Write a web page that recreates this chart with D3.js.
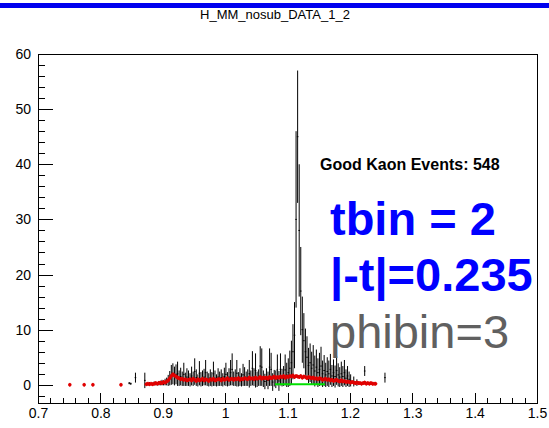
<!DOCTYPE html>
<html>
<head>
  <meta charset="UTF-8">
  <title>H_MM_nosub_DATA_1_2</title>
  <script src="https://d3js.org/d3.v7.min.js"></script>
  <style>
    body { margin: 0; background: #fff; font-family: "Liberation Sans", Arial, sans-serif; }
    .axis path, .axis line { stroke: #000; shape-rendering: crispEdges; }
    .axis text { font-family: "Liberation Sans", Arial, sans-serif; font-size: 14px; fill: #000; }
  </style>
</head>
<body>
  <div id="chart"></div>

  <script>
    // histogram binning (missing-mass axis)
    const binStart = 0.84, binWidth = 0.0025;

    // data histogram: bin content and error (null = empty bin)
    const blackVal = [
      null, null, 0.3, 0.2, null, null, 1.3, null, null, null,
      null, null, 0.8, null, 0.1, 0.2, null, 0.1, 0.3, 0.2,
      0.1, 0.3, 0.2, 0.4, 0.3, 0.5, 0.6, 0.8, 1.2, 1.8,
      2.0, 1.6, 1.9, 2.0, 1.2, 1.5, 1.1, 1.9, 1.0, 1.4,
      1.2, 0.9, 1.6, 1.1, 2.4, 1.3, 0.8, 2.1, 1.0, 1.2,
      1.4, 2.2, 1.1, 0.9, 1.3, 1.0, 2.0, 1.2, 0.8, 1.4,
      1.1, 1.3, 0.9, 1.5, 1.9, 1.0, 1.4, 2.2, 2.8, 1.1,
      1.3, 2.1, 1.0, 1.4, 0.9, 1.8, 1.5, 1.1, 1.3, 2.0,
      1.2, 3.0, 1.4, 2.6, 1.0, 1.3, 3.4, 3.2, 1.1, 0.6,
      1.4, 0.8, 3.2, 2.8, 0.5, 1.2, 1.0, 2.7, 0.7, 2.8,
      1.3, 1.6, 2.7, 1.8, 2.2, 3.0, 4.0, 6.0, 9.0, 30.0,
      45.0, 28.0, 17.0, 10.0, 8.0, 6.0, 5.0, 3.5, 4.0, 3.0,
      3.6, 2.5, 3.2, 2.2, 2.8, 3.4, 2.0, 2.6, 1.8, 2.4,
      2.0, 2.8, 1.6, 2.2, 1.5, 2.6, 1.8, 1.4, 2.0, 1.5,
      2.2, 1.2, 1.6, 1.0, 0.8, null, 0.6, null, 0.4, null,
      null, null, null, 2.5, null, null, null, null, null, null,
      null, null, null, null, null, null, 1.3, null
    ];
    const blackErr = [
      null, null, 0.2, 0.2, null, null, 0.9, null, null, null,
      null, null, 1.4, null, 0.2, 0.3, null, 0.2, 0.3, 0.3,
      0.2, 0.4, 0.3, 0.5, 0.4, 0.6, 0.7, 1.0, 1.3, 1.8,
      1.9, 1.7, 1.8, 2.2, 1.4, 1.6, 1.3, 2.1, 1.2, 1.6,
      1.4, 1.2, 1.7, 1.3, 2.4, 1.5, 1.1, 2.2, 1.3, 1.4,
      1.5, 2.3, 1.3, 1.2, 1.5, 1.3, 2.2, 1.4, 1.1, 1.6,
      1.3, 1.5, 1.2, 1.6, 2.1, 1.3, 1.6, 2.3, 2.9, 1.3,
      1.5, 2.4, 1.3, 1.6, 1.2, 2.0, 1.7, 1.3, 1.5, 2.5,
      1.4, 3.1, 1.6, 3.1, 1.4, 1.5, 3.6, 3.4, 1.5, 1.4,
      1.6, 1.6, 3.4, 3.0, 1.6, 1.5, 1.6, 2.8, 1.8, 2.9,
      1.6, 1.8, 2.8, 2.2, 2.6, 3.2, 4.0, 5.0, 6.0, 16.0,
      12.0, 12.0, 8.0, 6.0, 5.0, 4.2, 3.8, 3.2, 3.5, 3.0,
      3.6, 2.8, 3.2, 2.6, 3.0, 3.5, 2.4, 2.8, 2.2, 2.6,
      2.4, 2.8, 2.0, 2.4, 2.0, 2.6, 2.1, 1.8, 2.2, 1.9,
      2.3, 1.6, 1.8, 1.4, 1.1, null, 0.9, null, 0.6, null,
      null, null, null, 0.9, null, null, null, null, null, null,
      null, null, null, null, null, null, 0.9, null
    ];

    // background histogram (red markers), same binning
    const redVal = [
      null, null, null, null, null, null, null, null, null, null,
      null, null, null, 0.1, 0.2, 0.1, 0.2, 0.1, 0.2, 0.3,
      0.2, 0.3, 0.4, 0.3, 0.5, 0.4, 0.6, 0.8, 1.2, 1.6,
      1.9, 1.7, 1.5, 1.3, 1.2, 1.0, 1.1, 0.9, 1.0, 0.8,
      0.9, 1.0, 0.8, 1.1, 0.9, 0.7, 1.0, 0.8, 0.9, 1.1,
      0.8, 1.0, 0.9, 0.7, 1.0, 0.9, 1.1, 0.8, 0.9, 1.0,
      1.0, 0.8, 1.1, 0.9, 1.0, 1.2, 0.9, 1.0, 1.1, 0.9,
      1.1, 1.0, 1.2, 0.9, 1.1, 1.0, 1.2, 1.1, 1.0, 1.3,
      1.1, 1.2, 1.0, 1.3, 1.1, 1.2, 1.4, 1.1, 1.3, 1.2,
      1.3, 1.1, 1.4, 1.2, 1.3, 1.5, 1.2, 1.4, 1.3, 1.5,
      1.4, 1.6, 1.3, 1.5, 1.4, 1.6, 1.5, 1.7, 1.4, 1.6,
      1.5, 1.4, 1.6, 1.3, 1.5, 1.4, 1.2, 1.4, 1.3, 1.2,
      1.3, 1.1, 1.2, 1.0, 1.2, 1.1, 0.9, 1.0, 1.1, 0.9,
      1.0, 0.8, 0.9, 0.7, 0.8, 0.9, 0.7, 0.6, 0.8, 0.6,
      0.7, 0.5, 0.6, 0.5, 0.4, 0.5, 0.4, 0.3, 0.4, 0.3,
      0.3, 0.2, 0.3, 0.4, 0.2, 0.3, 0.2, 0.3, 0.2, 0.2,
      0.2, null, null, null, null, null, null, null
    ];
    // isolated red entries below the main range
    const redIsoX = [0.751, 0.774, 0.788, 0.833];
    const redIsoY = [0, 0, 0, 0];
    const redErr = 0.35;

    // green fit line
    const greenX = [1.08, 1.16];
    const greenY = [0.1, 0.1];

    const xTicks = [0.7, 0.8, 0.9, 1.0, 1.1, 1.2, 1.3, 1.4, 1.5];
    const xTickLabels = ["0.7", "0.8", "0.9", "1", "1.1", "1.2", "1.3", "1.4", "1.5"];
    const yTicks = [0, 10, 20, 30, 40, 50, 60];

    const margin = {top: 54, right: 12, bottom: 25, left: 38},
          width = 549 - margin.left - margin.right,
          height = 428 - margin.top - margin.bottom;

    const root = d3.select("#chart")
                   .append("svg")
                   .attr("width", 549)
                   .attr("height", 428);

    // top blue band + title
    root.append("rect")
        .attr("x", 0).attr("y", 3)
        .attr("width", 549).attr("height", 5)
        .attr("fill", "#0000ee");

    root.append("text")
        .attr("x", 275).attr("y", 19)
        .attr("text-anchor", "middle")
        .style("font-size", "13px")
        .text("H_MM_nosub_DATA_1_2");

    const svg = root.append("g")
                    .attr("transform", `translate(${margin.left},${margin.top})`);

    const x = d3.scaleLinear().domain([0.7, 1.5]).range([0, width]);
    const y = d3.scaleLinear().domain([-3.3, 60]).range([height, 0]);

    const bins = blackVal.map((v, i) => ({
      lo: binStart + i * binWidth,
      hi: binStart + (i + 1) * binWidth,
      v: v, e: blackErr[i], r: redVal[i]
    }));

    // frame
    svg.append("rect")
       .attr("width", width).attr("height", height)
       .attr("fill", "none").attr("stroke", "#000")
       .style("shape-rendering", "crispEdges");

    // minor ticks
    const yMinor = d3.range(-2, 60, 2).filter(d => d % 10 !== 0);
    const xMinor = d3.range(0.72, 1.5, 0.02).filter(d => Math.abs(d * 10 - Math.round(d * 10)) > 0.01);

    svg.append("g").attr("class", "axis")
       .call(d3.axisLeft(y).tickValues(yMinor).tickSize(-7).tickFormat(""))
       .select(".domain").remove();
    svg.append("g").attr("class", "axis")
       .attr("transform", `translate(0,${height})`)
       .call(d3.axisBottom(x).tickValues(xMinor).tickSize(-5).tickFormat(""))
       .select(".domain").remove();

    // major ticks + labels
    svg.append("g").attr("class", "axis")
       .call(d3.axisLeft(y).tickValues(yTicks).tickSize(-15).tickPadding(7).tickFormat(d3.format("d")))
       .select(".domain").remove();
    svg.append("g").attr("class", "axis")
       .attr("transform", `translate(0,${height})`)
       .call(d3.axisBottom(x).tickValues(xTicks).tickSize(-10).tickPadding(5)
               .tickFormat((d, i) => xTickLabels[i]))
       .select(".domain").remove();

    const plot = svg.append("g");

    // data histogram with error bars
    const filled = bins.filter(d => d.v !== null);
    plot.selectAll(".err")
        .data(filled).enter().append("line")
        .attr("x1", d => x((d.lo + d.hi) / 2)).attr("x2", d => x((d.lo + d.hi) / 2))
        .attr("y1", d => y(d.v - d.e)).attr("y2", d => y(d.v + d.e))
        .attr("stroke", "#000").attr("stroke-width", 1);
    plot.selectAll(".hbar")
        .data(filled).enter().append("line")
        .attr("x1", d => x(d.lo)).attr("x2", d => x(d.hi))
        .attr("y1", d => y(d.v)).attr("y2", d => y(d.v))
        .attr("stroke", "#000").attr("stroke-width", 1);

    // background points
    const reds = bins.filter(d => d.r !== null)
                     .map(d => ({x: (d.lo + d.hi) / 2, y: d.r}))
                     .concat(redIsoX.map((v, i) => ({x: v, y: redIsoY[i]})));
    plot.selectAll(".rerr")
        .data(reds).enter().append("line")
        .attr("x1", d => x(d.x)).attr("x2", d => x(d.x))
        .attr("y1", d => y(d.y - redErr)).attr("y2", d => y(d.y + redErr))
        .attr("stroke", "#e00000").attr("stroke-width", 1);
    plot.selectAll(".red")
        .data(reds).enter().append("circle")
        .attr("cx", d => x(d.x)).attr("cy", d => y(d.y))
        .attr("r", 1.8)
        .attr("fill", "#e00000");

    // fit line
    plot.append("path")
        .datum(greenX.map((v, i) => [v, greenY[i]]))
        .attr("d", d3.line().x(d => x(d[0])).y(d => y(d[1])))
        .attr("stroke", "#00e000").attr("stroke-width", 2).attr("fill", "none");

    // annotations
    svg.append("text")
       .attr("x", 320 - margin.left).attr("y", 170 - margin.top)
       .style("font-size", "16px").style("font-weight", "bold")
       .text("Good Kaon Events: 548");

    const notes = [
      {t: "tbin = 2", yb: 235, c: "#0000ff", w: "bold"},
      {t: "|-t|=0.235", yb: 291, c: "#0000ff", w: "bold"},
      {t: "phibin=3", yb: 348, c: "#606060", w: "normal"}
    ];
    svg.selectAll(".note")
       .data(notes).enter().append("text")
       .attr("x", 330 - margin.left)
       .attr("y", d => d.yb - margin.top)
       .style("font-size", "47px")
       .style("font-weight", d => d.w)
       .style("fill", d => d.c)
       .text(d => d.t);
  </script>
</body>
</html>
